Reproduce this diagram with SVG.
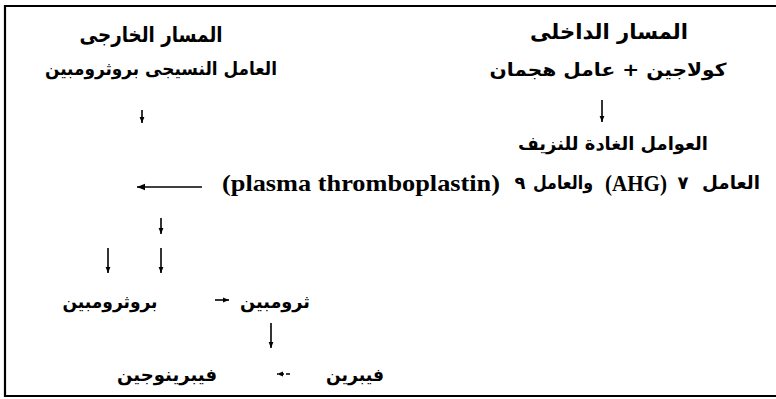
<svg xmlns="http://www.w3.org/2000/svg" width="776" height="399" viewBox="0 0 776 399">
<style>
.ar{font-family:"DejaVu Sans",sans-serif;font-weight:bold;fill:#000}
.h{font-size:21px}
.t{font-size:18px}
.lat{font-family:"Liberation Serif",serif;font-weight:bold;font-size:23px;fill:#000}
.ln{stroke:#000;stroke-width:1.6;fill:none}
.frame{stroke:#000;stroke-width:2.2;fill:none}
</style>
<defs>
<marker id="ah" viewBox="0 0 10 10" refX="10" refY="5" markerWidth="6" markerHeight="6" markerUnits="userSpaceOnUse" orient="auto">
<path d="M0,1 L10,5 L0,9 Z" fill="#000"/>
</marker>
<marker id="ahb" viewBox="0 0 10 10" refX="10" refY="5" markerWidth="12" markerHeight="8" markerUnits="userSpaceOnUse" orient="auto">
<path d="M0,1 L10,5 L0,9 Z" fill="#000"/>
</marker>
</defs>
<g id="frame">
<path class="frame" d="M776,6 L5,6 L5,396 L776,396"/>
</g>
<g id="n-ext-title"><text class="ar h" x="151" y="42" text-anchor="middle" textLength="143" lengthAdjust="spacingAndGlyphs">المسار الخارجى</text></g>
<g id="n-ext-factor"><text class="ar t" x="161" y="75" text-anchor="middle" textLength="232" lengthAdjust="spacingAndGlyphs">العامل النسيجى بروثرومبين</text></g>
<g id="n-int-title"><text class="ar h" x="609" y="39" text-anchor="middle" textLength="158" lengthAdjust="spacingAndGlyphs">المسار الداخلى</text></g>
<g id="n-int-start"><text class="ar t" x="608" y="76" text-anchor="middle" textLength="237" lengthAdjust="spacingAndGlyphs">كولاجين + عامل هجمان</text></g>
<g id="n-antihem"><text class="ar t" x="613" y="150" text-anchor="middle" textLength="190" lengthAdjust="spacingAndGlyphs">العوامل الغادة للنزيف</text></g>
<g id="n-factors">
<text class="lat" x="222" y="191" textLength="278" lengthAdjust="spacingAndGlyphs">(plasma thromboplastin)</text>
<text class="ar t" x="520" y="189" text-anchor="middle">٩</text>
<text class="ar t" x="563" y="189" text-anchor="middle" textLength="60" lengthAdjust="spacingAndGlyphs">والعامل</text>
<text class="lat" x="605" y="191" textLength="62" lengthAdjust="spacingAndGlyphs">(AHG)</text>
<text class="ar t" x="683" y="189" text-anchor="middle">٧</text>
<text class="ar t" x="731" y="189" text-anchor="middle" textLength="58" lengthAdjust="spacingAndGlyphs">العامل</text>
</g>
<g id="n-prothrombin"><text class="ar t" x="110" y="308" text-anchor="middle" textLength="95" lengthAdjust="spacingAndGlyphs">بروثرومبين</text></g>
<g id="n-thrombin"><text class="ar t" x="275" y="308" text-anchor="middle" textLength="70" lengthAdjust="spacingAndGlyphs">ثرومبين</text></g>
<g id="n-fibrinogen"><text class="ar t" x="167" y="381" text-anchor="middle" textLength="100" lengthAdjust="spacingAndGlyphs">فيبرينوجين</text></g>
<g id="n-fibrin"><text class="ar t" x="355" y="381" text-anchor="middle" textLength="58" lengthAdjust="spacingAndGlyphs">فيبرين</text></g>
<g id="connectors">
<line class="ln" x1="142" y1="110" x2="142" y2="123" marker-end="url(#ah)"/>
<line class="ln" x1="602" y1="100" x2="602" y2="122" marker-end="url(#ah)"/>
<line class="ln" x1="202" y1="187" x2="137" y2="187" stroke-width="2.2" marker-end="url(#ahb)"/>
<line class="ln" x1="161" y1="218" x2="161" y2="234" marker-end="url(#ah)"/>
<line class="ln" x1="108" y1="248" x2="108" y2="273" stroke-width="2" marker-end="url(#ah)"/>
<line class="ln" x1="161" y1="248" x2="161" y2="273" marker-end="url(#ah)"/>
<line class="ln" x1="215" y1="300" x2="229" y2="300" marker-end="url(#ah)"/>
<line class="ln" x1="271" y1="323" x2="271" y2="348" stroke-width="2" marker-end="url(#ah)"/>
<line class="ln" x1="290" y1="374" x2="277" y2="374" stroke-dasharray="4,2" marker-end="url(#ah)"/>
</g>
</svg>
